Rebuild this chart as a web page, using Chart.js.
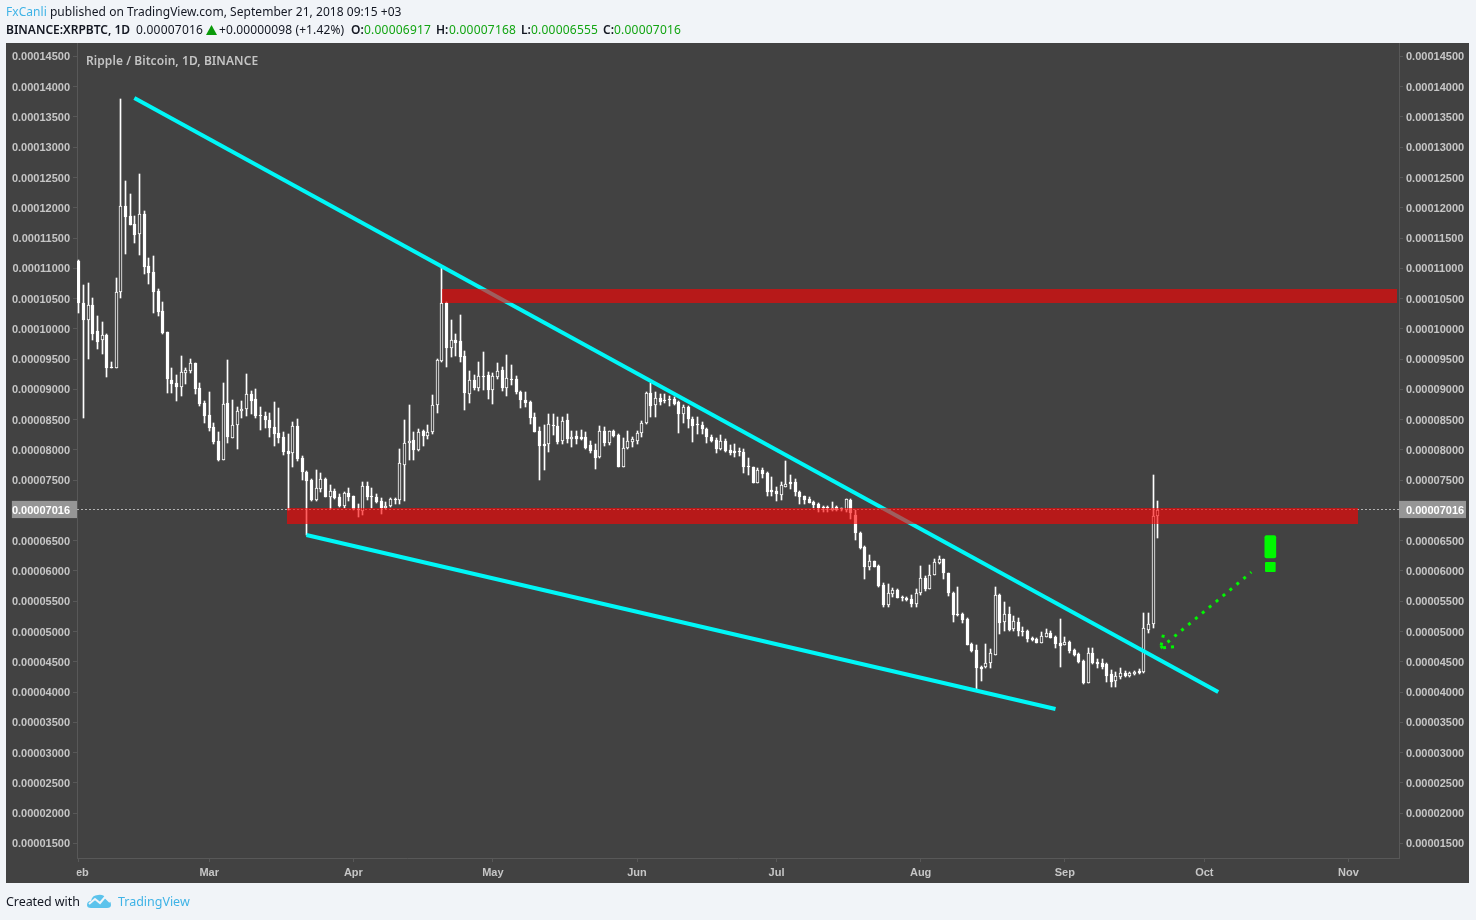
<!DOCTYPE html>
<html><head><meta charset="utf-8">
<script src="https://cdn.jsdelivr.net/npm/chart.js@4/dist/chart.umd.min.js"></script>
<style>
html,body{margin:0;padding:0;background:#f1f4f8;width:1476px;height:920px;overflow:hidden}
#wrap{position:relative;width:1476px;height:920px}
canvas{position:absolute;left:0;top:0}
.t{position:absolute;white-space:nowrap;font-family:"Noto Sans",sans-serif;color:#131722}
#l1{left:6px;top:3px;font-size:12px;letter-spacing:.04px;line-height:17px}
#l2{left:0;top:21px;width:700px;height:18px;font-size:12px;line-height:17px}
#l2 span{position:absolute;top:0;white-space:nowrap}
#l2 .n{letter-spacing:.22px}
#l2 b{font-weight:600}
.g{color:#12a512}
.bl{color:#3fb3e6}
#ti{left:86px;top:52px;font-size:12px;font-weight:600;color:#c4c4c4;line-height:17px;letter-spacing:.07px}
#cw{left:6px;top:893px;font-size:12.5px;line-height:18px;letter-spacing:-.07px}
#tv{left:118px;top:893px;font-size:12.5px;line-height:18px;color:#3fb3e6;letter-spacing:-.02px}
#logo{position:absolute;left:87px;top:893px}
#tri{position:absolute;left:206px;top:25px}
</style></head><body>
<div id="wrap">
<canvas id="c" width="1476" height="920"></canvas>
<div class="t" id="l1"><span class="bl">FxCanli</span> published on TradingView.com, September 21, 2018 09:15 +03</div>
<div class="t" id="l2">
<span style="left:6px"><b>BINANCE:XRPBTC, 1D</b></span>
<span class="n" style="left:136px">0.00007016</span>
<span class="n" style="left:219px;letter-spacing:.12px">+0.00000098 (+1.42%)</span>
<span style="left:351px"><b>O:</b></span><span class="n g" style="left:364px">0.00006917</span>
<span style="left:436px"><b>H:</b></span><span class="n g" style="left:449px">0.00007168</span>
<span style="left:521px"><b>L:</b></span><span class="n g" style="left:531px">0.00006555</span>
<span style="left:603px"><b>C:</b></span><span class="n g" style="left:614px">0.00007016</span>
</div>
<svg id="tri" width="11" height="10" viewBox="0 0 11 10"><path d="M5.5 0 L11 10 L0 10Z" fill="#0a9a0a"/></svg>
<div class="t" id="ti">Ripple / Bitcoin, 1D, BINANCE</div>
<div class="t" id="cw">Created with</div>
<svg id="logo" width="24" height="16" viewBox="0 0 24 16"><path d="M0 12 Q0 8 4 8 Q5 2 11 2 Q17 1 19 6 Q24 7 24 12 Q24 15 20 15 L4 15 Q0 15 0 12Z" fill="#5cc3ec"/><path d="M2 11 L8 6 L13 10 L18 4 L23 9" fill="none" stroke="#f1f4f8" stroke-width="2"/></svg>
<div class="t" id="tv">TradingView</div>
</div>
<script>
// prices in satoshi (1e-8 BTC); one entry per daily candle from 1 Feb 2018 to 21 Sep 2018
const opens=[
11131,10432,10151,10398,9969,9820,9903,9374,9369,10613,
12034,11874,11737,11571,11902,11043,10944,10630,10299,9952,
9165,9108,9044,9286,9319,9440,9027,8779,8581,8383,
8152,7849,8779,8212,8427,8647,8680,8928,8846,8587,
8576,8504,8383,8284,8218,7986,7953,8399,7876,7645,
7513,7183,7370,7530,7238,7326,7233,7089,7293,7244,
7029,7007,7409,7249,7238,7161,7045,7084,7194,7183,
7767,8119,8169,8015,8317,8246,8312,8747,9485,10443,
9700,9821,9810,9562,8940,9160,9039,9237,9248,9006,
9221,9325,9039,9182,9176,8967,8830,8802,8549,8317,
8103,8103,8422,8406,8163,8498,8185,8240,8218,8218,
8085,8008,7887,8322,8129,8317,8256,7722,8047,8146,
8163,8284,8449,8956,8757,8862,8829,8856,8845,8801,
8609,8719,8515,8438,8416,8355,8218,8179,8025,8157,
8008,7986,7992,7975,7738,7722,7458,7672,7628,7342,
7336,7270,7403,7474,7480,7314,7243,7193,7144,7111,
7067,7067,7012,7061,7045,7020,7183,6935,6643,6406,
6081,6170,6092,5778,5454,5630,5690,5575,5558,5547,
5465,5641,5894,5718,5949,6147,6203,5971,5646,5299,
5299,5222,4798,4705,4418,4418,4484,4628,5608,5162,
5294,5046,5167,5024,5018,4897,4881,4826,4919,4991,
4919,4815,4793,4837,4705,4639,4523,4165,4650,4501,
4490,4468,4308,4198,4264,4325,4270,4308,4352,4341,
5035,5129,6917];
const highs=[
11147,10734,10762,10514,10222,10118,9925,9462,10850,13802,
12453,12238,11874,12568,11951,11180,11208,10663,10448,9952,
9358,9248,9561,9358,9506,9440,9110,8813,8961,8449,
8306,9110,9490,8829,8713,8813,9259,8978,9011,8713,
8631,8614,8796,8702,8306,8273,8471,8521,7909,7662,
7530,7673,7624,7541,7431,7359,7282,7310,7376,7249,
7111,7480,7475,7376,7282,7211,7144,7221,7216,8020,
8505,8752,8312,8356,8339,8422,8918,9507,11010,10449,
10151,9925,10239,9645,9314,9248,9463,9623,9298,9287,
9441,9386,9578,9413,9237,8984,8967,8813,8615,8394,
8422,8598,8604,8560,8560,8604,8322,8322,8333,8311,
8157,8107,8405,8394,8328,8333,8273,8201,8322,8229,
8322,8493,8967,9110,8967,8933,8933,8900,8889,8818,
8752,8741,8548,8554,8465,8372,8256,8201,8256,8190,
8096,8102,8047,8019,7876,7727,7705,7705,7639,7557,
7403,7474,7821,7595,7529,7331,7248,7237,7160,7127,
7083,7083,7155,7083,7056,7204,7194,7018,6649,6423,
6274,6175,6103,5806,5790,5723,5712,5602,5575,5608,
5712,6092,5927,6114,6203,6258,6208,5977,5657,5740,
5310,5239,4815,4787,4446,4804,4721,5740,5624,5498,
5421,5266,5228,5079,5035,4919,4897,4996,5046,5018,
4941,5217,4914,4859,4716,4650,4539,4732,4732,4556,
4556,4484,4374,4347,4402,4358,4347,4358,4385,5321,
5321,7596,7168];
const lows=[
10277,8532,9506,9826,9672,9594,9220,9369,9369,10525,
11252,11731,11428,11236,10922,10756,10277,10228,9930,8956,
8956,8823,8901,9104,9275,8939,8741,8460,8328,8108,
7832,7849,8130,8212,8030,8543,8576,8609,8543,8339,
8372,8229,8080,8130,7926,7017,7733,7832,7507,6604,
7172,7161,7321,7227,7040,7205,7062,7045,7172,7018,
6908,6935,7183,7045,7139,6952,7029,7073,7111,7117,
7172,7844,7844,7998,8075,8196,8273,8626,9463,9386,
9551,9568,9463,8670,8791,9000,8989,9000,8852,8774,
9188,8984,8907,9083,8934,8697,8725,8444,8306,7513,
7679,7981,8257,8108,8103,8130,8063,8107,8174,8025,
7953,7689,7882,8080,8085,8229,7733,7722,8019,8052,
8113,8229,8432,8559,8559,8757,8785,8741,8746,8284,
8449,8377,8146,8273,8278,8129,8146,7964,8008,7981,
7926,7898,7909,7634,7595,7469,7458,7540,7248,7254,
7171,7182,7392,7364,7248,7116,7111,7127,7050,6990,
6990,6990,7006,6995,7006,6990,6874,6522,6373,5883,
6026,6081,5751,5410,5421,5575,5558,5520,5520,5421,
5410,5613,5685,5712,5944,6125,5883,5597,5173,5266,
5145,4787,4677,4060,4198,4402,4413,4628,4974,5019,
5024,5024,4936,4936,4837,4859,4826,4826,4914,4897,
4743,4429,4787,4661,4611,4484,4137,4165,4468,4402,
4391,4181,4099,4099,4231,4253,4253,4286,4303,4330,
4991,5063,6555];
const closes=[
10432,10156,10398,9925,9798,9903,9369,9360,10613,12034,
11863,11731,11566,11902,11037,10938,10624,10294,9941,9176,
9104,9055,9292,9325,9440,9022,8774,8576,8377,8146,
7849,8763,8229,8416,8647,8680,8928,8823,8576,8570,
8509,8372,8278,8212,7981,7948,8399,7865,7651,7502,
7183,7376,7524,7238,7326,7216,7084,7293,7238,7029,
7012,7409,7238,7238,7150,7045,7089,7194,7183,7789,
8119,8163,8009,8312,8240,8312,8747,9490,10432,9700,
9821,9782,9551,8956,9160,9033,9237,9221,8995,9226,
9320,9039,9193,9165,8973,8830,8791,8543,8312,8081,
8075,8433,8411,8147,8487,8190,8229,8196,8196,8047,
7986,7882,8317,8124,8317,8234,7733,8036,8152,8190,
8284,8449,8956,8735,8862,8807,8812,8834,8768,8609,
8713,8515,8410,8421,8355,8218,8163,8025,8157,7992,
7959,7964,7970,7727,7722,7469,7678,7612,7320,7320,
7281,7425,7441,7447,7320,7226,7182,7138,7100,7056,
7050,7050,7056,7012,7034,7193,6963,6643,6390,6081,
6170,6081,5762,5448,5641,5690,5569,5558,5536,5465,
5641,5889,5712,5949,6153,6203,5971,5646,5288,5283,
5200,4793,4688,4413,4396,4484,4650,5608,5156,5294,
5035,5178,5013,5008,4892,4875,4826,4936,4980,4908,
4804,4776,4837,4683,4622,4501,4154,4650,4484,4479,
4418,4281,4170,4275,4319,4275,4319,4336,4330,5063,
5129,6917,7016];
const lastPrice=7016;
const yTickValues=[1500,2000,2500,3000,3500,4000,4500,5000,5500,6000,6500,7500,8000,8500,9000,9500,10000,10500,11000,11500,12000,12500,13000,13500,14000,14500];
const monthTicks=[0,28,59,89,120,150,181,212,242,273];
const monthLabels=['Feb','Mar','Apr','May','Jun','Jul','Aug','Sep','Oct','Nov'];
// drawing tools, in day index / satoshi
const upperTrendDays=[11.9,245.0], upperTrendPrices=[13812,4001];
const lowerTrendDays=[48.9,210.0], lowerTrendPrices=[6594,3720];
const arrowShaftDays=[232.6,252.1], arrowShaftPrices=[4728,5980];
const arrowHeadDays=[233.2,232.6,235.6], arrowHeadPrices=[4947,4728,4749];
const zoneDays=[[78,283.4],[44.8,275.2]], zonePrices=[[10422,10653],[6776,7041]];
const bangDay=256.2, bangBarPrices=[6214,6585], bangDotPrices=[5990,6143];

const xMin=-0.43,xMax=283.87,yMin=1259,yMax=14722;
const PANEL='#424242', AXIS='#585858', TICKTXT='#c6c6c6', LIME='#00f800';
const days=closes.map((_,i)=>i);
const pts=(xs,ys)=>xs.map((x,i)=>({x,y:ys[i]}));

const snapPlugin={id:'snap',afterDatasetsUpdate(ch){
  [0,1].forEach(d=>ch.getDatasetMeta(d).data.forEach(el=>{
    el.x=Math.floor(el.x)+.5;
    let a=Math.round(el.y+.6),b=Math.round(el.base+.6);
    if(a===b)b=a+1;
    el.y=Math.min(a,b);el.base=Math.max(a,b);
  }));
}};
const panelPlugin={id:'panel',
  beforeDraw(ch){const c=ch.ctx;c.save();c.fillStyle=PANEL;c.fillRect(6,43,1463,840);c.restore();},
  afterDatasetsDraw(ch){
    const c=ch.ctx,x=ch.scales.x,y=ch.scales.y,A=ch.chartArea;
    c.save();c.beginPath();c.rect(A.left,A.top,A.width,A.height);c.clip();
    c.fillStyle='rgba(255,0,0,0.62)';
    zoneDays.forEach((d,i)=>{
      const l=x.getPixelForValue(d[0]),r=x.getPixelForValue(d[1]);
      const t=y.getPixelForValue(zonePrices[i][1]),b=y.getPixelForValue(zonePrices[i][0]);
      c.fillRect(Math.round(l),Math.round(t),Math.round(r-l),Math.round(b-t));
    });
    c.restore();
  },
  afterDraw(ch){const c=ch.ctx;c.save();c.fillStyle=PANEL;c.fillRect(6,860,70.5,22);c.restore();}
};
const yAxis=(pos,pad)=>({
  type:'linear',position:pos,min:yMin,max:yMax,
  afterBuildTicks(s){s.ticks=yTickValues.concat([lastPrice]).sort((a,b)=>a-b).map(value=>({value}));},
  afterFit(s){s.width=67;},
  grid:{drawOnChartArea:false,tickLength:4,color:AXIS,tickColor:AXIS,offset:false},
  border:{color:AXIS,width:1},
  ticks:{autoSkip:false,padding:3,labelOffset:1,font:{family:'"Liberation Sans"',size:11,weight:'bold'},
    color:c=>c.tick.value===lastPrice?'#ffffff':TICKTXT,
    callback:v=>(v*1e-8).toFixed(8),
    showLabelBackdrop:c=>c.tick.value===lastPrice,backdropColor:'#969696',backdropPadding:pad}
});
new Chart(document.getElementById('c'),{
  type:'bar',
  data:{datasets:[
    {label:'wick',order:6,barThickness:1,grouped:false,backgroundColor:'#ffffff',borderWidth:0,
     data:days.map(i=>({x:i,y:[lows[i],highs[i]]}))},
    {label:'body',order:5,barThickness:3,grouped:false,borderColor:'#ffffff',borderWidth:1,borderSkipped:false,
     backgroundColor:c=>{const i=c.dataIndex;return closes[i]>opens[i]?PANEL:'#ffffff';},
     data:days.map(i=>({x:i,y:[opens[i],closes[i]]}))},
    {type:'line',label:'last',order:7,data:pts([xMin,xMax],[lastPrice,lastPrice]),borderColor:'#b4b4b4',borderWidth:1,borderDash:[2,2],pointRadius:0},
    {type:'line',label:'upper trend',order:3,data:pts(upperTrendDays,upperTrendPrices),borderColor:'#00f7f7',borderWidth:4,pointRadius:0},
    {type:'line',label:'lower trend',order:3,data:pts(lowerTrendDays,lowerTrendPrices),borderColor:'#00f7f7',borderWidth:4,pointRadius:0},
    {type:'line',label:'arrow',order:2,data:pts(arrowShaftDays,arrowShaftPrices),borderColor:LIME,borderWidth:3,borderDash:[3,6],pointRadius:0},
    {type:'line',label:'arrow head',order:2,data:pts(arrowHeadDays,arrowHeadPrices),borderColor:LIME,borderWidth:3,borderDash:[3,5],pointRadius:0},
    {label:'bang bar',order:1,barThickness:11,grouped:false,backgroundColor:LIME,borderWidth:0,borderRadius:2,borderSkipped:false,
     data:[{x:bangDay,y:bangBarPrices}]},
    {label:'bang dot',order:1,barThickness:10,grouped:false,backgroundColor:LIME,borderWidth:0,borderRadius:1,borderSkipped:false,
     data:[{x:bangDay,y:bangDotPrices}]}
  ]},
  options:{
    responsive:false,animation:false,events:[],
    layout:{padding:{left:10,right:10,top:43,bottom:37}},
    plugins:{legend:{display:false},tooltip:{enabled:false},title:{display:false}},
    scales:{
      x:{type:'linear',min:xMin,max:xMax,offset:false,
        afterBuildTicks(s){s.ticks=monthTicks.map(value=>({value}));},
        afterFit(s){s.height=25;},
        grid:{drawOnChartArea:false,tickLength:4,color:AXIS,tickColor:AXIS,offset:false},
        border:{color:AXIS,width:1},
        ticks:{autoSkip:false,maxRotation:0,padding:4,color:TICKTXT,font:{family:'"Liberation Sans"',size:11,weight:'bold'},
          callback:v=>monthLabels[monthTicks.indexOf(v)]}},
      y:yAxis('left',{left:0,right:8,top:3,bottom:1}),
      y2:yAxis('right',{left:7,right:2,top:3,bottom:1})
    }
  },
  plugins:[snapPlugin,panelPlugin]
});
</script>
</body></html>
